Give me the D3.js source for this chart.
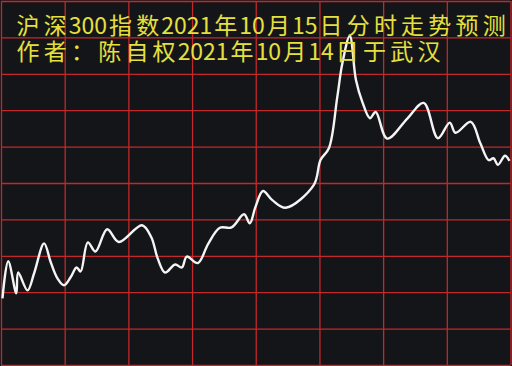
<!DOCTYPE html>
<html lang="zh">
<head>
    <meta charset="UTF-8">
    <title>沪深300指数分时走势预测</title>
    <script src="https://d3js.org/d3.v7.min.js"></script>
    <style>
        body { margin: 0; background: #141518; }
        .grid line { stroke: #c3282a; stroke-width: 1.3px; }
        .grid path { display: none; }
        .title {
            font-family: "Noto Sans CJK SC", sans-serif;
            font-size: 23px;
            fill: #e6e03e;
            text-anchor: middle;
        }
    </style>
</head>
<body>
<div id="chart"></div>
<script>
    // minute of trading day (0-240) and predicted level (arbitrary units, 0-100)
    const minutes = [0.7, 3.4, 7.2, 8.1, 12.5, 15.6, 20.3, 23.4, 26.6, 29.7,
                     32.8, 35.6, 37.5, 40.9, 44.5, 50.0, 55.5, 66.4, 70.8, 73.8,
                     77.3, 82.0, 85.2, 87.5, 92.7, 97.6, 103.1, 108.6, 114.5, 117.2,
                     119.8, 123.4, 127.8, 134.1, 147.3, 150.5, 154.5, 158.4, 160.8, 164.3,
                     167.2, 170.2, 173.8, 176.5, 181.9, 191.4, 199.1, 205.8, 211.4, 214.1,
                     221.3, 225.8, 229.7, 232.0, 234.1, 237.4, 239.5];
    const values  = [18.3, 28.5, 19.7, 25.4, 20.5, 25.2, 33.4, 28.3, 23.8, 21.9,
                     24.1, 26.8, 25.7, 33.7, 31.2, 37.3, 33.8, 38.4, 35.1, 29.3,
                     25.4, 27.6, 26.8, 29.8, 28.0, 33.3, 37.7, 37.8, 41.4, 38.9,
                     43.3, 47.8, 45.3, 43.2, 49.4, 56.3, 59.6, 73.6, 82.9, 90.4,
                     78.3, 72.3, 67.8, 69.5, 62.2, 67.7, 72.0, 62.3, 66.6, 63.8,
                     66.8, 60.9, 56.3, 56.8, 55.0, 57.5, 56.1];
    const xTicks = [0, 30, 60, 90, 120, 150, 180, 210, 240];
    const yTicks = [0, 10, 20, 30, 40, 50, 60, 70, 80, 90, 100];
    const titleLines = ["沪深300指数2021年10月15日分时走势预测",
                        "作者：陈自权2021年10月14日于武汉"];

    const W = 512, H = 366;
    const svg = d3.select("#chart").append("svg")
                  .attr("width", W).attr("height", H);

    svg.append("rect").attr("width", W).attr("height", H).attr("fill", "#141518");

    const x = d3.scaleLinear().domain([0, 240]).range([1, 510.5]);
    const y = d3.scaleLinear().domain([0, 100]).range([365, 1]);

    // red grid
    svg.append("g")
       .attr("class", "grid")
       .attr("transform", "translate(0,365)")
       .call(d3.axisBottom(x).tickValues(xTicks).tickSize(-364).tickFormat(""));
    svg.append("g")
       .attr("class", "grid")
       .attr("transform", "translate(1,0)")
       .call(d3.axisLeft(y).tickValues(yTicks).tickSize(-509.5).tickFormat(""));

    const data = minutes.map((m, i) => ({ m: m, v: values[i] }));

    const line = d3.line()
                   .x(d => x(d.m))
                   .y(d => y(d.v))
                   .curve(d3.curveCatmullRom.alpha(0.5));

    svg.append("path")
       .datum(data)
       .attr("fill", "none")
       .attr("stroke", "#f4f4f4")
       .attr("stroke-width", 2.4)
       .attr("stroke-linejoin", "round")
       .attr("d", line);

    // title: fixed cells, full width for hanzi, narrow for digits
    const cjkStep = 27.2, digitStep = 12.7;
    function cells(str) {
        let pos = 14.5;
        return Array.from(str).map(ch => {
            const step = /[0-9]/.test(ch) ? digitStep : cjkStep;
            const c = { ch: ch, cx: pos + step / 2 };
            pos += step;
            return c;
        });
    }

    titleLines.forEach((str, i) => {
        svg.append("text").attr("class", "title")
           .attr("y", 34 + i * 26)
           .selectAll("tspan")
           .data(cells(str))
           .join("tspan")
           .attr("x", d => d.cx)
           .text(d => d.ch);
    });
</script>
</body>
</html>
